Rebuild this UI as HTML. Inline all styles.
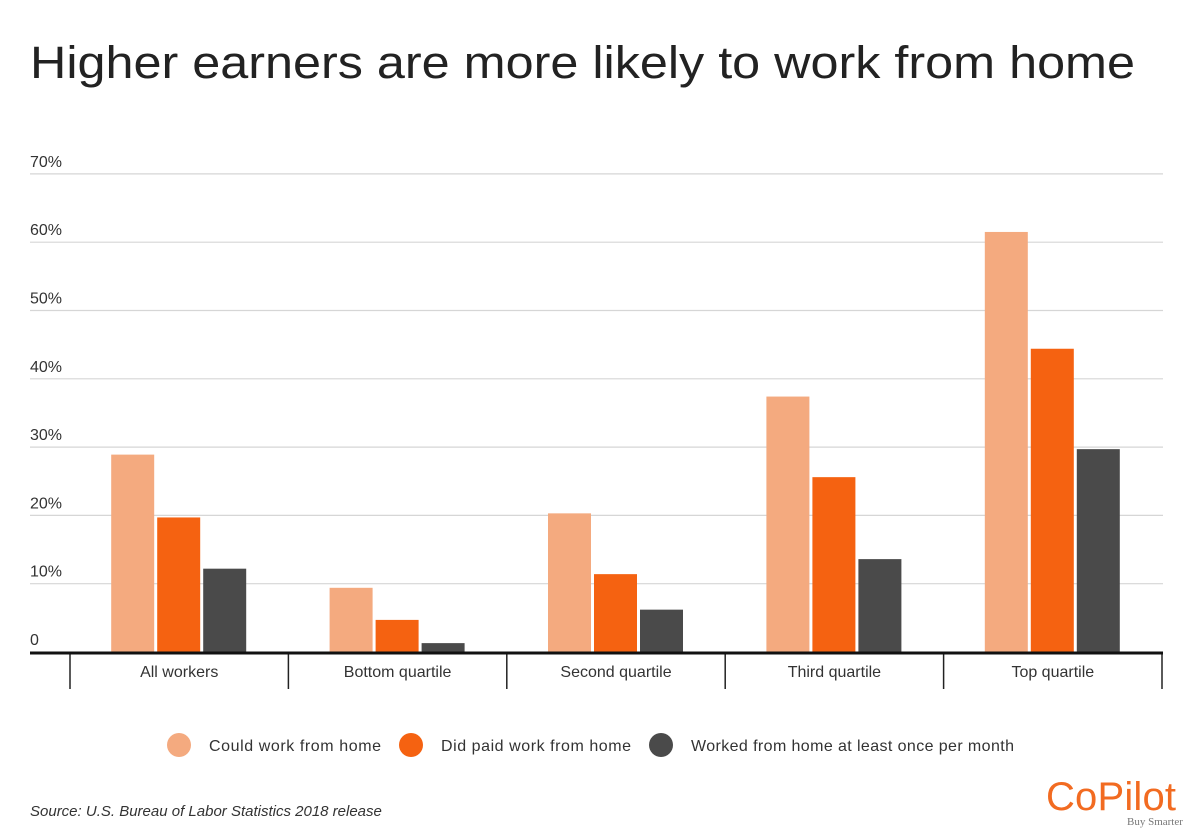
<!DOCTYPE html>
<html><head><meta charset="utf-8"><style>
body{margin:0;background:#fff;font-family:"Liberation Sans",sans-serif}
#wrap{position:relative;width:1200px;height:838px;overflow:hidden}
</style></head><body>
<div id="wrap">
<svg id="chart" width="1200" height="838">
<text x="30" y="78" font-size="45" textLength="1105" lengthAdjust="spacingAndGlyphs" fill="#222">Higher earners are more likely to work from home</text>
<g id="grid"></g><g id="bars"></g><g id="axis"></g>
<g>
<g><circle cx="179" cy="745" r="12" fill="#f4aa7f"/><text x="209" y="751" font-size="16" textLength="172" fill="#333">Could work from home</text></g>
<g><circle cx="411" cy="745" r="12" fill="#f56211"/><text x="441" y="751" font-size="16" textLength="190" fill="#333">Did paid work from home</text></g>
<g><circle cx="661" cy="745" r="12" fill="#4a4a4a"/><text x="691" y="751" font-size="16" textLength="323" fill="#333">Worked from home at least once per month</text></g>
</g>
<text x="30" y="816" font-size="15" font-style="italic" fill="#333">Source:  U.S. Bureau of Labor Statistics 2018 release</text>
<text x="1046" y="810" font-size="40" fill="#f26b21" textLength="130">CoPilot</text>
<text x="1127" y="825" font-size="11" font-family="Liberation Serif,serif" fill="#777">Buy Smarter</text>
</svg>
</div>
<script>
const categories=["All workers","Bottom quartile","Second quartile","Third quartile","Top quartile"];
const couldWork=[28.9,9.4,20.3,37.4,61.5];
const didWork=[19.7,4.7,11.4,25.6,44.4];
const workedMonthly=[12.2,1.3,6.2,13.6,29.7];
const yTicks=[0,10,20,30,40,50,60,70];
const yTickLabels=["0","10%","20%","30%","40%","50%","60%","70%"];
const NS="http://www.w3.org/2000/svg";
const y0=652,pxPer=6.83,x0=70,groupW=218.4;
const y=v=>y0-v*pxPer;
function mk(t,a,p){const e=document.createElementNS(NS,t);for(const k in a)e.setAttribute(k,a[k]);p.appendChild(e);return e;}
const grid=document.getElementById('grid'),bars=document.getElementById('bars'),axis=document.getElementById('axis');
yTicks.forEach((v,i)=>{
  if(v>0){const l=mk('line',{x1:30,x2:1163,y1:y(v),y2:y(v),stroke:'#d6d6d6','stroke-width':1.2},grid);
  
  }
  const t=mk('text',{x:30,y:y(v)-7,'font-size':16,fill:'#333'},grid);t.textContent=yTickLabels[i];
  
  
});
const series=[[couldWork,'#f4aa7f','could'],[didWork,'#f56211','did'],[workedMonthly,'#4a4a4a','worked']];
categories.forEach((c,i)=>{
  const cx=x0+groupW*(i+0.5);
  series.forEach((s,j)=>{
    const bx=cx-68+j*46,v=s[0][i];
    const r=mk('rect',{x:bx,y:y(v),width:43,height:y0-y(v),fill:s[1]},bars);
    
    
  });
  const t=mk('text',{x:cx,y:677,'font-size':16,fill:'#333','text-anchor':'middle'},axis);t.textContent=c;
  
  
});
for(let i=0;i<=categories.length;i++){
  const l=mk('line',{x1:x0+groupW*i,x2:x0+groupW*i,y1:652,y2:689,stroke:'#222','stroke-width':1.5},axis);
  
  
}
const b=mk('line',{x1:30,x2:1163,y1:653,y2:653,stroke:'#111','stroke-width':3},axis);


</script>
</body></html>
